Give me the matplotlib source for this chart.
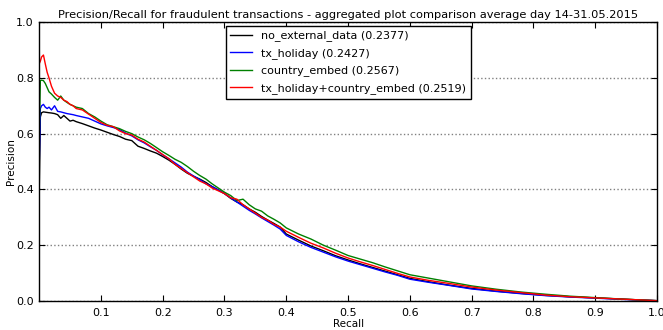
import matplotlib
matplotlib.use('Agg')
import matplotlib.pyplot as plt

# recall grid shared by all four curves
recall = [0.0, 0.002, 0.004, 0.007, 0.01, 0.013, 0.016, 0.02, 0.025, 0.03,
          0.035, 0.04, 0.045, 0.05, 0.055, 0.06, 0.07, 0.08, 0.09, 0.1,
          0.11, 0.12, 0.13, 0.14, 0.15, 0.16, 0.17, 0.18, 0.19, 0.2,
          0.21, 0.22, 0.23, 0.24, 0.25, 0.26, 0.27, 0.28, 0.29, 0.3,
          0.31, 0.32, 0.33, 0.34, 0.35, 0.36, 0.37, 0.38, 0.39, 0.4,
          0.42, 0.44, 0.46, 0.48, 0.5, 0.52, 0.54, 0.56, 0.58, 0.6,
          0.63, 0.66, 0.7, 0.74, 0.78, 0.82, 0.86, 0.9, 0.95, 1.0]

prec_no_ext = [0.36, 0.66, 0.675, 0.678, 0.677, 0.676, 0.675, 0.674, 0.672, 0.668,
               0.655, 0.665, 0.655, 0.645, 0.648, 0.643, 0.636, 0.628, 0.62, 0.613,
               0.605, 0.597, 0.59, 0.58, 0.575, 0.555, 0.547, 0.538, 0.53, 0.518,
               0.505, 0.49, 0.473, 0.458, 0.447, 0.437, 0.425, 0.41, 0.398, 0.385,
               0.368, 0.355, 0.345, 0.33, 0.318, 0.303, 0.29, 0.278, 0.265, 0.24,
               0.218, 0.197, 0.18, 0.162, 0.147, 0.133, 0.12, 0.107, 0.094, 0.081,
               0.069, 0.058, 0.045, 0.035, 0.027, 0.02, 0.015, 0.011, 0.006, 0.001]

prec_holiday = [0.47, 0.69, 0.70, 0.705, 0.695, 0.69, 0.695, 0.685, 0.70, 0.68,
                0.678, 0.675, 0.672, 0.67, 0.668, 0.665, 0.66, 0.655, 0.645, 0.635,
                0.628, 0.622, 0.615, 0.602, 0.592, 0.578, 0.567, 0.553, 0.54, 0.524,
                0.51, 0.495, 0.48, 0.462, 0.448, 0.435, 0.42, 0.41, 0.398, 0.385,
                0.37, 0.355, 0.34, 0.325, 0.312, 0.298, 0.285, 0.272, 0.258, 0.235,
                0.212, 0.192, 0.175, 0.158, 0.143, 0.13, 0.117, 0.104, 0.092, 0.078,
                0.067, 0.057, 0.043, 0.034, 0.026, 0.019, 0.014, 0.01, 0.005, 0.001]

prec_country = [0.57, 0.79, 0.792, 0.79, 0.78, 0.765, 0.75, 0.742, 0.73, 0.72,
                0.735, 0.72, 0.712, 0.705, 0.70, 0.695, 0.69, 0.672, 0.66, 0.645,
                0.632, 0.625, 0.618, 0.608, 0.6, 0.588, 0.578, 0.565, 0.55, 0.535,
                0.522, 0.508, 0.497, 0.482, 0.465, 0.45, 0.437, 0.42, 0.405, 0.39,
                0.378, 0.36, 0.365, 0.345, 0.33, 0.322, 0.305, 0.293, 0.28, 0.262,
                0.24, 0.222, 0.2, 0.182, 0.163, 0.15, 0.137, 0.122, 0.108, 0.094,
                0.082, 0.07, 0.054, 0.042, 0.032, 0.024, 0.017, 0.012, 0.006, 0.001]

prec_both = [0.85, 0.86, 0.875, 0.882, 0.85, 0.82, 0.80, 0.77, 0.745, 0.735,
             0.73, 0.72, 0.715, 0.705, 0.70, 0.69, 0.685, 0.67, 0.655, 0.64,
             0.63, 0.625, 0.61, 0.6, 0.595, 0.58, 0.57, 0.555, 0.54, 0.525,
             0.51, 0.49, 0.475, 0.46, 0.445, 0.43, 0.42, 0.405, 0.395, 0.385,
             0.37, 0.365, 0.345, 0.33, 0.315, 0.30, 0.29, 0.275, 0.265, 0.25,
             0.228, 0.207, 0.19, 0.171, 0.154, 0.14, 0.127, 0.113, 0.099, 0.086,
             0.074, 0.064, 0.05, 0.039, 0.03, 0.021, 0.015, 0.011, 0.006, 0.001]

labels = ['no_external_data (0.2377)',
          'tx_holiday (0.2427)',
          'country_embed (0.2567)',
          'tx_holiday+country_embed (0.2519)']
colors = ['k', 'b', 'g', 'r']

fig = plt.figure(figsize=(6.63, 3.30), dpi=100, facecolor='white')
ax = fig.add_axes([0.059, 0.088, 0.932, 0.845])

for prec, lab, col in zip([prec_no_ext, prec_holiday, prec_country, prec_both], labels, colors):
    ax.plot(recall, prec, color=col, linewidth=1.0, label=lab)

ax.set_xlim(0.0, 1.0)
ax.set_ylim(0.0, 1.0)
ax.set_xticks([0.1, 0.2, 0.3, 0.4, 0.5, 0.6, 0.7, 0.8, 0.9, 1.0])
ax.set_yticks([0.0, 0.2, 0.4, 0.6, 0.8, 1.0])
ax.tick_params(direction='in', top=True, right=True, labelsize=8, length=4)
ax.tick_params(axis='x', pad=5)
ax.tick_params(axis='y', pad=4)
ax.yaxis.grid(True, linestyle=':', color='gray', linewidth=1.0)
for s in ax.spines.values():
    s.set_linewidth(1.0)

ax.set_xlabel('Recall', fontsize=7.5, labelpad=1)
ax.set_ylabel('Precision', fontsize=7.5, labelpad=0)
ax.set_title('Precision/Recall for fraudulent transactions - aggregated plot comparison average day 14-31.05.2015',
             fontsize=8.2, pad=3)

leg = ax.legend(loc='upper center', fontsize=8.0, fancybox=False, framealpha=1.0,
                borderaxespad=0.35, handlelength=2.0, labelspacing=0.6)
leg.get_frame().set_edgecolor('black')

fig.savefig('out.png', dpi=100, facecolor='white')
